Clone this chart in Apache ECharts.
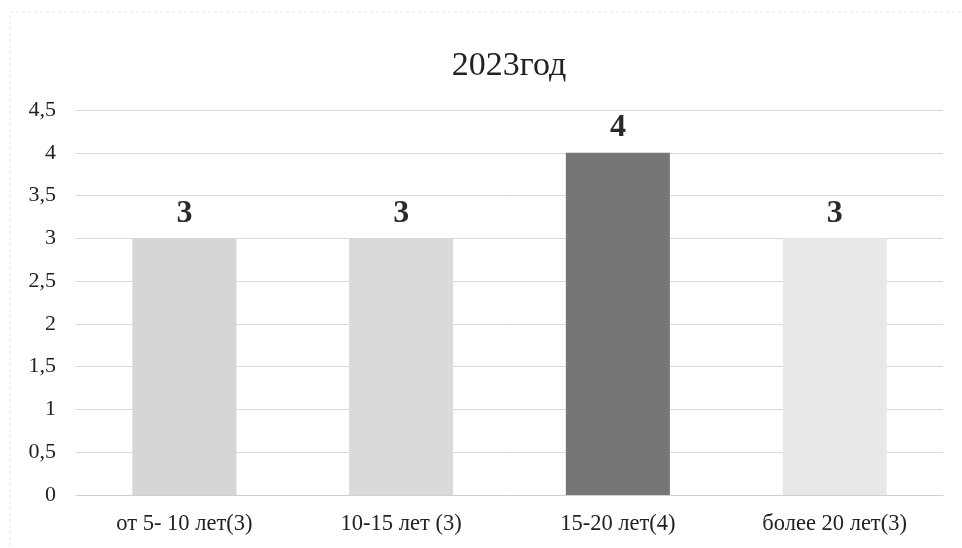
<!DOCTYPE html>
<html><head><meta charset="utf-8">
<script src="https://cdn.jsdelivr.net/npm/echarts@6/dist/echarts.min.js"></script>
<style>html,body{margin:0;padding:0;background:#fff}#c{width:962px;height:548px}</style>
</head><body><div id="c"></div>
<script>
const title = '2023год';
const categories = ['от 5- 10 лет(3)', '10-15 лет (3)', '15-20 лет(4)', 'более 20 лет(3)'];
const values = [3, 3, 4, 3];
const barColors = ['#d6d6d6', '#dadada', '#767676', '#e8e8e8'];
const chart = echarts.init(document.getElementById('c'));
const serif = '"Liberation Serif", "DejaVu Serif", serif';
chart.setOption({
  animation: false,
  backgroundColor: '#fff',
  graphic: [{ type: 'rect', shape: { x: 10, y: 12, width: 960, height: 540 },
    style: { fill: 'none', stroke: '#e4e4e4', lineWidth: 1, lineDash: [3, 3] }, silent: true }],
  title: { text: title, left: 504, top: 44, textAlign: 'center',
    textStyle: { fontFamily: serif, fontSize: 34, fontWeight: 'normal', color: '#222' } },
  grid: { left: 76, right: 19, top: 110, bottom: 53 },
  xAxis: { type: 'category', data: categories,
    axisLine: { lineStyle: { color: '#cfcfcf' } }, axisTick: { show: false },
    axisLabel: { fontFamily: serif, fontSize: 22.5, color: '#222', margin: 18 } },
  yAxis: { type: 'value', min: 0, max: 4.5, interval: 0.5,
    axisLine: { show: false }, axisTick: { show: false },
    splitLine: { lineStyle: { color: '#d9d9d9' } },
    axisLabel: { fontFamily: serif, fontSize: 22, color: '#222', margin: 20,
      formatter: v => String(v).replace('.', ',') } },
  series: [{ type: 'bar', barWidth: '48%',
    data: values.map((v, i) => ({ value: v, itemStyle: { color: barColors[i] } })),
    label: { show: true, position: 'top', distance: 9, fontFamily: serif, fontSize: 32,
      fontWeight: 'bold', color: '#2a2a2a' } }]
});
</script></body></html>
